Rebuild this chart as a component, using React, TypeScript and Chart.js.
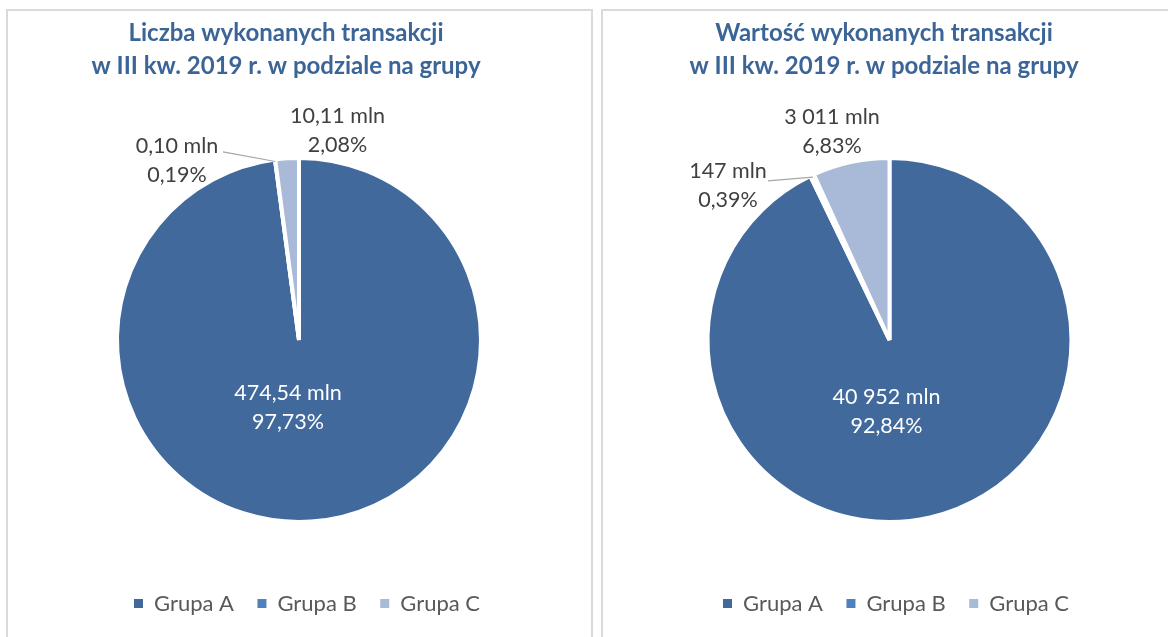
import React, { useEffect, useRef } from "react";
import { Chart, registerables } from "chart.js";

Chart.register(...registerables);

// ---------- data ----------
const categories = ["Grupa A", "Grupa B", "Grupa C"];

const countTitle = ["Liczba wykonanych transakcji", "w III kw. 2019 r. w podziale na grupy"];
const countValues = [474.54, 0.1, 10.11]; // mln
const countPercents = [97.73, 0.19, 2.08];

const valueTitle = ["Wartość wykonanych transakcji", "w III kw. 2019 r. w podziale na grupy"];
const valueValues = [40952, 147, 3011]; // mln zł
const valuePercents = [92.84, 0.39, 6.83];

// ---------- styles ----------
const sliceColors = ["#41699C", "#4F81BD", "#A9B9D8"];
const FONT = "Lato, 'Open Sans', sans-serif";
const TITLE_COLOR = "#3C6597";
const LABEL_COLOR = "#404040";
const LEGEND_COLOR = "#595959";

const fmtDecimal = (v: number) => v.toFixed(2).replace(".", ",") + " mln";
const fmtThousands = (v: number) =>
  String(Math.round(v)).replace(/\B(?=(\d{3})+(?!\d))/g, "\u00a0") + " mln";
const fmtPct = (p: number) => p.toFixed(2).replace(".", ",") + "%";

type Placement = { dx: number; dy: number; color: string; leader?: [number, number] };

// label block placements, relative to the pie centre (layout only)
const countPlacements: Placement[] = [
  { dx: -11, dy: 67.5, color: "#FFFFFF" },
  { dx: -122, dy: -179.5, color: LABEL_COLOR, leader: [-76, -188] },
  { dx: 38.5, dy: -209.5, color: LABEL_COLOR },
];
const valuePlacements: Placement[] = [
  { dx: -3, dy: 71.5, color: "#FFFFFF" },
  { dx: -161.5, dy: -154.5, color: LABEL_COLOR, leader: [-121.5, -159] },
  { dx: -57.5, dy: -208.5, color: LABEL_COLOR },
];

const sliceLabelsPlugin = {
  id: "sliceLabels",
  afterDatasetsDraw(chart: any, _args: any, opts: any) {
    if (!opts || !opts.placements) return;
    const ctx = chart.ctx;
    const meta = chart.getDatasetMeta(0);
    const ds = chart.data.datasets[0];
    const bw = ds.borderWidth || 0;
    meta.data.forEach((arc: any, i: number) => {
      const { x, y, startAngle, endAngle, outerRadius } = arc.getProps(
        ["x", "y", "startAngle", "endAngle", "outerRadius"],
        true
      );
      const p: Placement = opts.placements[i];
      const value = ds.data[i] as number;
      const lines = [opts.format(value), fmtPct(opts.percents[i])];
      ctx.save();
      if (p.leader) {
        const mid = (startAngle + endAngle) / 2;
        const r = outerRadius - bw / 2;
        ctx.strokeStyle = "#A6A6A6";
        ctx.lineWidth = 1.2;
        ctx.beginPath();
        ctx.moveTo(x + p.leader[0], y + p.leader[1]);
        ctx.lineTo(x + Math.cos(mid) * r, y + Math.sin(mid) * r);
        ctx.stroke();
      }
      ctx.fillStyle = p.color;
      ctx.font = `${opts.fontSize}px ${FONT}`;
      ctx.textAlign = "center";
      ctx.textBaseline = "middle";
      const cx = x + p.dx;
      const cy = y + p.dy;
      const lh = opts.lineHeight;
      lines.forEach((t: string, k: number) => {
        ctx.fillText(t, cx, cy + (k - (lines.length - 1) / 2) * lh);
      });
      ctx.restore();
    });
  },
};

const shiftBlocksPlugin = {
  id: "shiftBlocks",
  afterLayout(chart: any, _args: any, opts: any) {
    if (!opts) return;
    const t = chart.titleBlock;
    if (t && opts.title) {
      t.left += opts.title;
      t.right += opts.title;
    }
    const l = chart.legend;
    if (l && opts.legend) {
      l.left += opts.legend;
      l.right += opts.legend;
    }
  },
};

type PieProps = {
  title: string[];
  values: number[];
  percents: number[];
  format: (v: number) => string;
  placements: Placement[];
  width: number;
  height: number;
  padLeft: number;
  padRight: number;
  titleShift: number;
  legendShift: number;
};

function PieChart(props: PieProps) {
  const ref = useRef<HTMLCanvasElement | null>(null);
  useEffect(() => {
    if (!ref.current) return;
    const defaultLabels = (Chart as any).overrides.pie.plugins.legend.labels.generateLabels;
    const chart = new Chart(ref.current, {
      type: "pie",
      data: {
        labels: categories,
        datasets: [
          {
            data: props.values,
            backgroundColor: sliceColors,
            borderColor: "#FFFFFF",
            borderWidth: 4,
            hoverBorderWidth: 4,
          },
        ],
      },
      plugins: [sliceLabelsPlugin, shiftBlocksPlugin],
      options: {
        responsive: false,
        animation: false,
        radius: 182,
        layout: { padding: { left: props.padLeft, right: props.padRight, top: 0, bottom: 12.5 } },
        plugins: {
          title: {
            display: true,
            text: props.title,
            color: TITLE_COLOR,
            font: { family: FONT, size: 24, weight: "bold", lineHeight: 1.39 },
            padding: { top: 16.5, bottom: 27.7 },
          },
          legend: {
            display: true,
            position: "bottom",
            labels: {
              color: LEGEND_COLOR,
              font: { family: FONT, size: 22 },
              boxWidth: 9,
              boxHeight: 9,
              padding: 23.5,
              generateLabels: (chart: any) =>
                defaultLabels(chart).map((l: any) => ({ ...l, lineWidth: 0 })),
            },
          },
          tooltip: { enabled: false },
          sliceLabels: {
            placements: props.placements,
            percents: props.percents,
            format: props.format,
            fontSize: 21.5,
            lineHeight: 28.5,
          },
          shiftBlocks: { title: props.titleShift, legend: props.legendShift },
        } as any,
      },
    });
    return () => chart.destroy();
  }, []);
  return <canvas ref={ref} width={props.width} height={props.height} />;
}

export default function App() {
  const boxBase: React.CSSProperties = {
    position: "absolute",
    top: 9,
    height: 660,
    border: "2px solid #DADADA",
    boxSizing: "border-box",
    background: "#FFFFFF",
  };
  return (
    <div
      style={{
        position: "absolute",
        left: 0,
        top: 0,
        width: 1168,
        height: 637,
        overflow: "hidden",
        background: "#FFFFFF",
      }}
    >
      <div style={{ ...boxBase, left: 6, width: 587 }} />
      <div style={{ ...boxBase, left: 601, width: 600 }} />
      <div style={{ position: "absolute", left: 0, top: 0 }}>
        <PieChart
          title={countTitle}
          values={countValues}
          percents={countPercents}
          format={fmtDecimal}
          placements={countPlacements}
          width={596}
          height={637}
          padLeft={60}
          padRight={58}
          titleShift={-13}
          legendShift={8}
        />
      </div>
      <div style={{ position: "absolute", left: 596, top: 0 }}>
        <PieChart
          title={valueTitle}
          values={valueValues}
          percents={valuePercents}
          format={fmtThousands}
          placements={valuePlacements}
          width={572}
          height={637}
          padLeft={66}
          padRight={51}
          titleShift={-5.5}
          legendShift={6.5}
        />
      </div>
    </div>
  );
}
